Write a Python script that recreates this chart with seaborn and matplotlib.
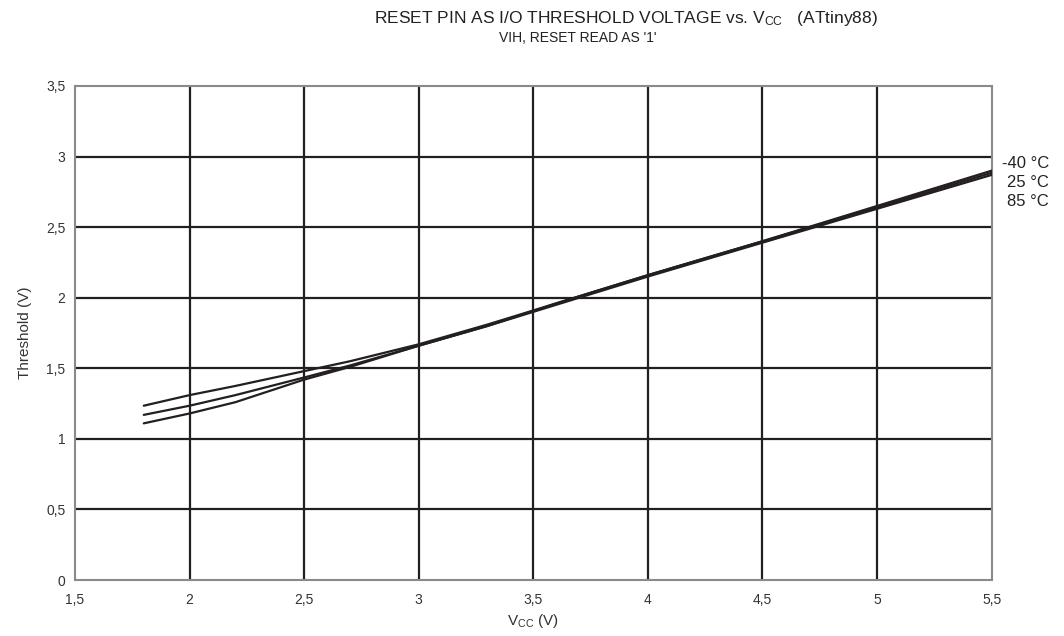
import matplotlib
matplotlib.use("Agg")
import matplotlib.pyplot as plt
import pandas as pd
import seaborn as sns

# data
vcc = [1.8, 2.0, 2.2, 2.5, 2.7, 3.0, 3.3, 3.6, 4.0, 4.5, 5.0, 5.5]
t_m40 = [1.235, 1.31, 1.375, 1.48, 1.55, 1.67, 1.81, 1.96, 2.16, 2.40, 2.65, 2.90]
t_25 = [1.17, 1.235, 1.31, 1.435, 1.52, 1.66, 1.80, 1.96, 2.16, 2.40, 2.64, 2.885]
t_85 = [1.11, 1.18, 1.26, 1.42, 1.51, 1.66, 1.80, 1.95, 2.15, 2.39, 2.63, 2.87]
temps = ["-40 °C", "25 °C", "85 °C"]

xticks = [1.5, 2, 2.5, 3, 3.5, 4, 4.5, 5, 5.5]
yticks = [0, 0.5, 1, 1.5, 2, 2.5, 3, 3.5]

rows = []
for name, vals in zip(temps, [t_m40, t_25, t_85]):
    for v, t in zip(vcc, vals):
        rows.append({"vcc": v, "thr": t, "temp": name})
df = pd.DataFrame(rows)

sns.set_style("white")
plt.rcParams["font.family"] = ["Liberation Sans", "DejaVu Sans"]
plt.rcParams["mathtext.fontset"] = "custom"
plt.rcParams["mathtext.rm"] = "Liberation Sans"
plt.rcParams["mathtext.it"] = "Liberation Sans"

ink = "#231f20"
txt = "#333333"
fig = plt.figure(figsize=(10.64, 6.36), dpi=100)
ax = fig.add_axes([0.0705, 0.088, 0.8615, 0.7768])

sns.lineplot(data=df, x="vcc", y="thr", hue="temp", palette=[ink] * 3,
             linewidth=1.6, legend=False, ax=ax, zorder=3)

ax.set_xlim(1.5, 5.5)
ax.set_ylim(0, 3.5)
ax.set_xticks(xticks)
ax.set_yticks(yticks)
ax.set_xticklabels([str(v).replace(".", ",") for v in xticks])
ax.set_yticklabels([str(v).replace(".", ",").replace(",0", "") for v in yticks])

# heavy grid as in the datasheet
for x in xticks[1:-1]:
    ax.axvline(x, color=ink, lw=1.6, zorder=1)
for y in yticks[1:-1]:
    ax.axhline(y, color=ink, lw=1.6, zorder=1)

for s in ax.spines.values():
    s.set_color("#8a8a8a")
    s.set_linewidth(1.5)
ax.tick_params(axis="both", direction="out", length=4, width=1,
               color="#8a8a8a", labelsize=10, labelcolor=txt)
ax.tick_params(axis="x", pad=5)
ax.tick_params(axis="y", pad=3)

ax.set_xlabel("V$_{\\mathrm{CC}}$ (V)", fontsize=11, color=txt, labelpad=4)
ax.set_ylabel("Threshold (V)", fontsize=11, color=txt, labelpad=10)

fig.text(0.588, 0.971, "RESET PIN AS I/O THRESHOLD VOLTAGE vs. V$_{\\mathrm{CC}}$   (ATtiny88)",
         ha="center", va="center", fontsize=12.5, color="#222222")
fig.text(0.543, 0.940, "VIH, RESET READ AS '1'", ha="center", va="center",
         fontsize=10, color="#222222")

for i, name in enumerate(temps):
    fig.text(0.986, 1 - (163 + 19 * i) / 636, name, ha="right", va="center",
             fontsize=12, color="#222222")

fig.savefig("out.png", dpi=100)
